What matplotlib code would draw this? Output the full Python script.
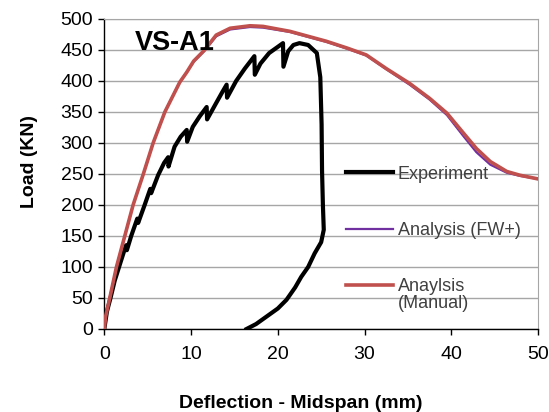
import matplotlib
matplotlib.use("Agg")
import matplotlib.pyplot as plt

plt.rcParams['font.family'] = ['Liberation Sans', 'DejaVu Sans']

# Experiment
exp_x = [0, 0.3, 0.75, 1.2, 1.7, 2.2, 2.5, 2.6, 3.1, 3.8, 3.9, 4.65, 5.3, 5.4, 6.2, 6.9, 7.36, 7.4,
         8.1, 8.8, 9.5, 9.55, 10.2, 11.0, 11.8, 11.85, 12.8, 13.6, 14.1, 14.15, 15.2, 16.2, 17.3, 17.35,
         18.0, 19.0, 20.0, 20.6, 20.65, 21.2, 21.8, 22.5, 23.5, 24.5, 24.9, 25.05, 25.1, 25.2, 25.3,
         25.0, 24.25, 23.5, 22.7, 22.0, 21.0, 20.0, 18.7, 17.5, 16.4]
exp_y = [0, 28, 52, 78, 100, 122, 135, 127, 150, 178, 171, 200, 226, 219, 248, 268, 277, 262,
         294, 310, 321, 302, 326, 343, 358, 338, 362, 382, 394, 373, 400, 420, 440, 410,
         428, 445, 455, 461, 423, 448, 458, 461, 458, 445, 406, 330, 256, 200, 160,
         140, 122, 100, 84, 67, 47, 33, 20, 8, 0]

# Analysis (FW+)
fw_x = [0, 0.15, 0.63, 1.4, 2.36, 3.32, 4.5, 5.63, 6.98, 8.7, 9.5, 10.3, 11.5, 12.9, 14.5, 16.8,
        18.3, 21.4, 25.6, 28.0, 30.2, 32.5, 35.2, 37.5, 39.5, 41.4, 42.9, 44.5, 46.4, 47.9, 50]
fw_y = [0, 20, 50, 100, 150, 200, 250, 300, 350, 398, 414, 431, 448, 472, 483, 487,
        486, 479, 463, 452, 441, 419, 394, 370, 345, 311, 285, 265, 252, 247, 242]

# Anaylsis (Manual)
man_x = [0, 0.15, 0.63, 1.4, 2.36, 3.32, 4.5, 5.63, 6.98, 8.7, 9.5, 10.3, 11.5, 12.9, 14.5, 16.8,
         18.3, 21.4, 25.6, 28.0, 30.2, 32.5, 35.2, 37.5, 39.5, 41.4, 42.9, 44.5, 46.4, 47.9, 50]
man_y = [0, 20, 50, 100, 150, 200, 250, 300, 350, 398, 414, 432, 449, 474, 485, 489,
         488, 480, 464, 453, 442, 420, 396, 372, 348, 316, 291, 270, 254, 248, 242]

xticks = [0, 10, 20, 30, 40, 50]
yticks = [0, 50, 100, 150, 200, 250, 300, 350, 400, 450, 500]

fig = plt.figure(figsize=(5.49, 4.12), dpi=100)
ax = fig.add_axes([0.190, 0.2015, 0.790, 0.7525])

ax.plot(exp_x, exp_y, color='black', lw=3.0, label='Experiment', solid_joinstyle='round', zorder=3)
ax.plot(fw_x, fw_y, color='#7030a0', lw=1.6, label='Analysis (FW+)', zorder=4)
ax.plot(man_x, man_y, color='#c0504d', lw=2.6, label='Anaylsis', zorder=5)

ax.set_xlim(0, 50)
ax.set_ylim(0, 500)
ax.set_xticks(xticks)
ax.set_yticks(yticks)
ax.yaxis.grid(True, color='#a6a6a6', lw=1.0)
ax.set_axisbelow(True)
for s in ['top', 'right']:
    ax.spines[s].set_color('#a6a6a6')
for s in ['left', 'bottom']:
    ax.spines[s].set_color('black')
    ax.spines[s].set_linewidth(1.0)
ax.tick_params(axis='both', direction='out', length=4, width=1, labelsize=14, colors='black')
ax.tick_params(axis='x', pad=8)
ax.tick_params(axis='y', pad=4)

ax.set_xlabel('Deflection - Midspan (mm)', fontsize=14, fontweight='bold', labelpad=23)
ax.xaxis.label.set_x(0.453)
ax.set_ylabel('Load (KN)', fontsize=14, fontweight='bold', labelpad=16)
ax.yaxis.label.set_y(0.54)

ax.text(0.070, 0.924, 'VS-A1', transform=ax.transAxes, fontsize=19.5, fontweight='bold',
        va='center', ha='left', zorder=6)

leg = ax.legend(loc='upper left', bbox_to_anchor=(0.558, 0.527), frameon=False, fontsize=13,
                handlelength=2.6, handletextpad=0.25, labelspacing=2.18, borderpad=0,
                borderaxespad=0)
for t in leg.get_texts():
    t.set_color('#404040')

fig.canvas.draw()
last = leg.get_texts()[-1]
bb = last.get_window_extent()
inv = ax.transAxes.inverted()
x0, y0 = inv.transform((bb.x0, bb.y0))
ax.text(x0, y0, '(Manual)', transform=ax.transAxes, fontsize=13, color='#404040',
        ha='left', va='top')

fig.savefig('out.png', dpi=100)
